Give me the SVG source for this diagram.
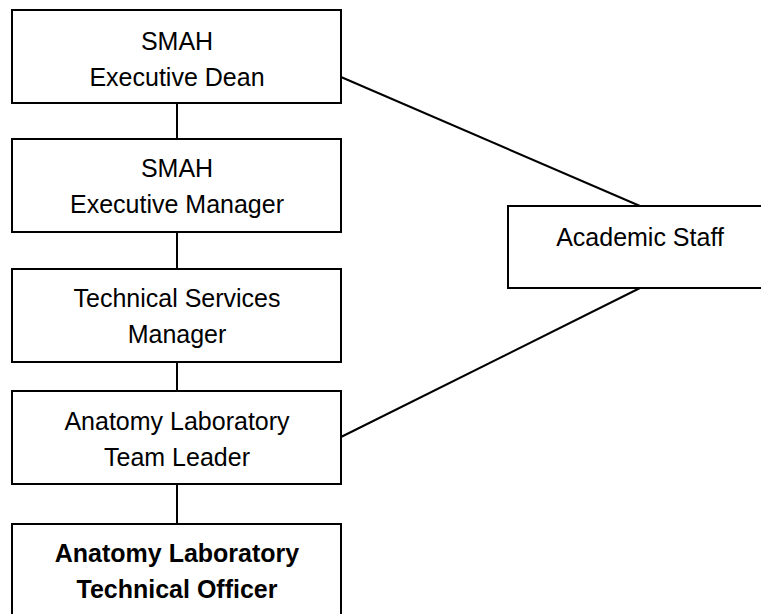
<svg xmlns="http://www.w3.org/2000/svg" width="761" height="614" viewBox="0 0 761 614">
<style>
.box{fill:#fff;stroke:#000;stroke-width:2}
.con{stroke:#000;stroke-width:2;fill:none}
text{font-family:"Liberation Sans",Arial,sans-serif;font-size:25px;fill:#000;text-anchor:middle}
.b{font-weight:bold}
</style>
<rect width="761" height="614" fill="#fff"/>
<g id="connectors">
<line class="con" x1="177" y1="103" x2="177" y2="139"/>
<line class="con" x1="177" y1="232" x2="177" y2="269"/>
<line class="con" x1="177" y1="362" x2="177" y2="391"/>
<line class="con" x1="177" y1="484" x2="177" y2="524"/>
<line class="con" x1="341" y1="77" x2="640" y2="206"/>
<line class="con" x1="341" y1="437" x2="640" y2="288"/>
</g>
<g id="dean">
<rect class="box" x="12" y="10" width="329" height="93"/>
<text x="177" y="50">SMAH</text>
<text x="177" y="86">Executive Dean</text>
</g>
<g id="execmanager">
<rect class="box" x="12" y="139" width="329" height="93"/>
<text x="177" y="177">SMAH</text>
<text x="177" y="213">Executive Manager</text>
</g>
<g id="techservices">
<rect class="box" x="12" y="269" width="329" height="93"/>
<text x="177" y="307">Technical Services</text>
<text x="177" y="343">Manager</text>
</g>
<g id="teamleader">
<rect class="box" x="12" y="391" width="329" height="93"/>
<text x="177" y="430">Anatomy Laboratory</text>
<text x="177" y="466">Team Leader</text>
</g>
<g id="techofficer">
<rect class="box" x="12" y="524" width="329" height="94"/>
<text class="b" x="177" y="562">Anatomy Laboratory</text>
<text class="b" x="177" y="598">Technical Officer</text>
</g>
<g id="academic">
<rect class="box" x="508" y="206" width="260" height="82"/>
<text x="640" y="246">Academic Staff</text>
</g>
</svg>
